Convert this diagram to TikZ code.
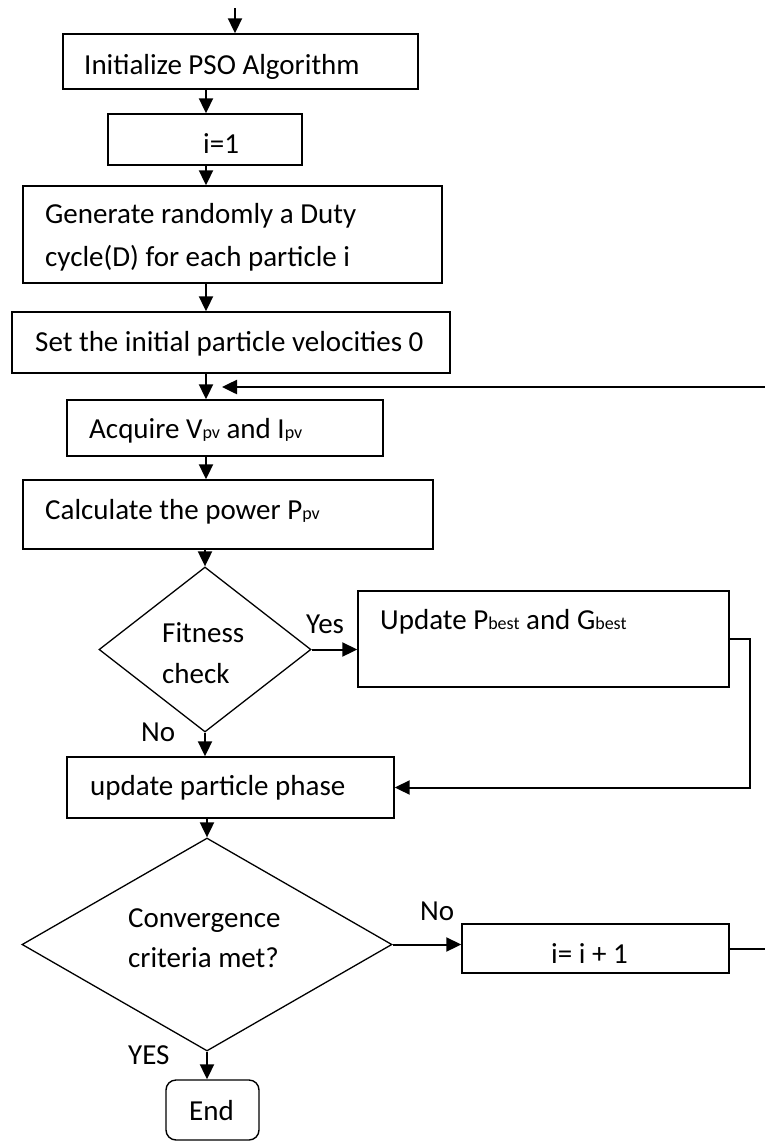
\documentclass[tikz,border=0pt]{standalone}
\usepackage{fontspec}
\setmainfont{Carlito}
\usetikzlibrary{shapes.geometric,arrows.meta}
\newcommand{\lowtxt}[1]{{\fontsize{18}{18}\selectfont #1}}
\begin{document}
\begin{tikzpicture}[x=1pt,y=-1pt,
  box/.style={draw, line width=1.4pt, inner sep=0pt},
  dia/.style={draw, diamond, line width=1.3pt, inner sep=0pt},
  txt/.style={inner sep=0pt, anchor=base west, font=\fontsize{29}{43}\selectfont},
  arr/.style={draw, line width=2pt, -{Triangle[length=15pt,width=14pt]}},
  ln/.style={draw, line width=2pt}]
\fill[white] (0,0) rectangle (765,1141);
\useasboundingbox (0,0) rectangle (765,1141);

% boxes
\node[box, minimum width=355pt, minimum height=55pt] (init) at (240.5,61.5) {};
\node[box, minimum width=194pt, minimum height=51pt] (i1) at (205,139.5) {};
\node[box, minimum width=419pt, minimum height=97pt] (gen) at (232.5,234.5) {};
\node[box, minimum width=438pt, minimum height=61pt] (set) at (231,342.5) {};
\node[box, minimum width=316pt, minimum height=56pt] (acq) at (225,428) {};
\node[box, minimum width=410pt, minimum height=69pt] (calc) at (228,514.5) {};
\node[dia, minimum width=212pt, minimum height=165pt] (fit) at (205,649.5) {};
\node[box, minimum width=371pt, minimum height=96pt] (upd) at (543.5,639) {};
\node[box, minimum width=327pt, minimum height=61pt] (phase) at (230.5,787.5) {};
\node[dia, minimum width=370pt, minimum height=213pt] (conv) at (207,944.5) {};
\node[box, minimum width=267pt, minimum height=49pt] (inc) at (595.5,948.5) {};
\node[box, rounded corners=10pt, minimum width=93pt, minimum height=60pt] (endb) at (212.5,1110) {};

% texts
\node[txt] (initT) at (84,74) {Initialize PSO Algorithm};
\node[txt] (i1T) at (203,153) {i=1};
\node[txt] (genT1) at (45,223) {Generate randomly a Duty};
\node[txt] (genT2) at (45,266) {cycle(D) for each particle i};
\node[txt] (setT) at (35,351) {Set the initial particle velocities 0};
\node[txt] (acqT) at (89,438) {Acquire V\lowtxt{pv} and I\lowtxt{pv}};
\node[txt] (calcT) at (45,519) {Calculate the power P\lowtxt{pv}};
\node[txt] (fitT1) at (162,642) {Fitness};
\node[txt] (fitT2) at (162,683) {check};
\node[txt] (updT) at (380,629) {Update P\lowtxt{best} and G\lowtxt{best}};
\node[txt] (phaseT) at (90,795) {update particle phase};
\node[txt] (convT1) at (128,927) {Convergence};
\node[txt] (convT2) at (128,967) {criteria met?};
\node[txt] (incT) at (551,963) {i= i + 1};
\node[txt] (endT) at (189,1120) {End};

% labels
\node[txt] (yes1) at (306,633) {Yes};
\node[txt] (no1) at (141,741) {No};
\node[txt] (no2) at (420,920) {No};
\node[txt] (yes2) at (128,1064) {YES};

% connectors
\coordinate (topin) at (235,8);
\coordinate (ax) at (206,0);
\coordinate (rc) at (750,700);
\coordinate (incout) at (765,946);
\coordinate (fbin) at (765,387);
\coordinate (fbend) at (222,387);

\draw[arr] (topin) -- (init.north -| topin);
\draw[arr] (init.south -| ax) -- (i1.north -| ax);
\draw[arr] (i1.south -| ax) -- (gen.north -| ax);
\draw[arr] (gen.south -| ax) -- (set.north -| ax);
\draw[arr] (set.south -| ax) -- (acq.north -| ax);
\draw[arr] (acq.south -| ax) -- (calc.north -| ax);
\draw[arr] (calc.south -| fit.north) -- (fit.north);
\draw[arr] (fit.east) -- (upd.west |- fit.east);
\draw[arr] (fit.south) -- (phase.north -| fit.south);
\draw[arr] (upd.east) -| (rc) |- (phase.east);
\draw[arr] (phase.south -| conv.north) -- (conv.north);
\draw[arr] (conv.east) -- (inc.west |- conv.east);
\draw[arr] (conv.south) -- (endb.north -| conv.south);
\draw[ln] (inc.east) -- (inc.east -| incout);
\draw[arr, line width=2.5pt] (fbin) -- (fbend);
\end{tikzpicture}
\end{document}
